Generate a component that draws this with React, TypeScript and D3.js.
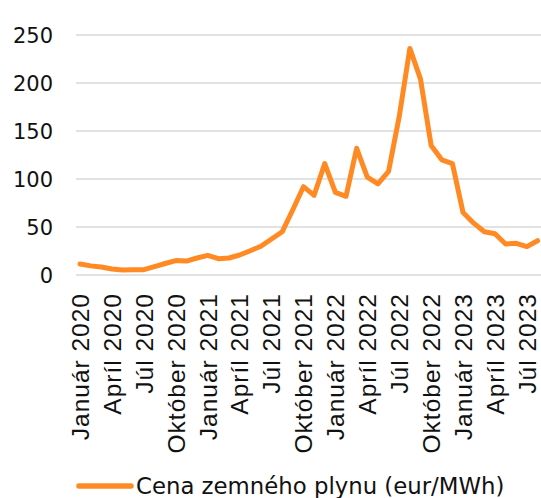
import React, { useEffect, useRef } from 'react';
import * as d3 from 'd3';

// monthly natural gas price, eur/MWh
const monthNames = ['Január', 'Február', 'Marec', 'Apríl', 'Máj', 'Jún', 'Júl', 'August', 'September', 'Október', 'November', 'December'];
const years = [2020, 2021, 2022, 2023];
const prices2020 = [11.5, 9.5, 8.3, 6.2, 5.2, 5.5, 5.5, 8.7, 12, 15, 14.5, 17.7];
const prices2021 = [20.5, 17, 17.7, 20.8, 25.3, 30, 37.5, 45, 68, 92, 83, 116];
const prices2022 = [86, 82, 132, 102, 95, 108, 165, 236, 204, 135, 120, 116];
const prices2023 = [65, 54, 45, 43, 32.3, 33, 29.5, 35.7];
const yTicks = [0, 50, 100, 150, 200, 250];
const seriesName = 'Cena zemného plynu (eur/MWh)';

const WIDTH = 541;
const HEIGHT = 498;
const ORANGE = '#ff8a24';

const App = () => {
    const ref = useRef<SVGSVGElement>(null);

    useEffect(() => {
        const values = [...prices2020, ...prices2021, ...prices2022, ...prices2023];
        const categories: string[] = [];
        years.forEach(yr => monthNames.forEach(m => categories.push(m + ' ' + yr)));
        const cats = categories.slice(0, values.length);
        const data = cats.map((c, i) => ({ key: c, value: values[i] }));

        const step = 10.64;
        const x = d3.scaleBand().domain(cats).range([74.7, 74.7 + cats.length * step]);
        const y = d3.scaleLinear().domain([0, 250]).range([275, 35]);
        const cx = (k: string) => (x(k) as number) + x.bandwidth() / 2;

        const svg = d3.select(ref.current);
        svg.selectAll('*').remove();

        // gridlines
        svg.append('g')
            .selectAll('line')
            .data(yTicks)
            .enter()
            .append('line')
            .attr('x1', 76)
            .attr('x2', 74.7 + cats.length * step)
            .attr('y1', d => y(d))
            .attr('y2', d => y(d))
            .attr('stroke', '#d9d9d9')
            .attr('stroke-width', 1.5);

        // y labels
        svg.append('g')
            .selectAll('text')
            .data(yTicks)
            .enter()
            .append('text')
            .attr('x', 53)
            .attr('y', d => y(d))
            .attr('dy', '0.36em')
            .attr('text-anchor', 'end')
            .attr('font-family', 'DejaVu Sans')
            .attr('font-size', '21px')
            .attr('fill', '#111')
            .text(d => d);

        // x labels, every third month
        svg.append('g')
            .selectAll('text')
            .data(cats.filter((_, i) => i % 3 === 0))
            .enter()
            .append('text')
            .attr('transform', d => 'translate(' + cx(d) + ',293) rotate(-90)')
            .attr('dy', '0.36em')
            .attr('text-anchor', 'end')
            .attr('font-family', 'Liberation Sans')
            .attr('font-size', '24.5px')
            .attr('letter-spacing', '1px')
            .attr('fill', '#111')
            .text(d => d);

        const line = d3.line<{ key: string; value: number }>()
            .x(d => cx(d.key))
            .y(d => y(d.value));

        svg.append('path')
            .datum(data)
            .attr('d', line)
            .attr('fill', 'none')
            .attr('stroke', ORANGE)
            .attr('stroke-width', 5)
            .attr('stroke-linejoin', 'round')
            .attr('stroke-linecap', 'round');

        // legend
        svg.append('line')
            .attr('x1', 79).attr('x2', 131)
            .attr('y1', 486).attr('y2', 486)
            .attr('stroke', ORANGE)
            .attr('stroke-width', 5.5)
            .attr('stroke-linecap', 'round');
        svg.append('text')
            .attr('x', 136)
            .attr('y', 494)
            .attr('font-family', 'DejaVu Sans')
            .attr('font-size', '22.8px')
            .attr('fill', '#111')
            .text(seriesName);
    }, []);

    return (
        <svg ref={ref} width={WIDTH} height={HEIGHT}
            style={{ position: 'absolute', left: 0, top: 0, background: '#fff' }} />
    );
};

export default App;
